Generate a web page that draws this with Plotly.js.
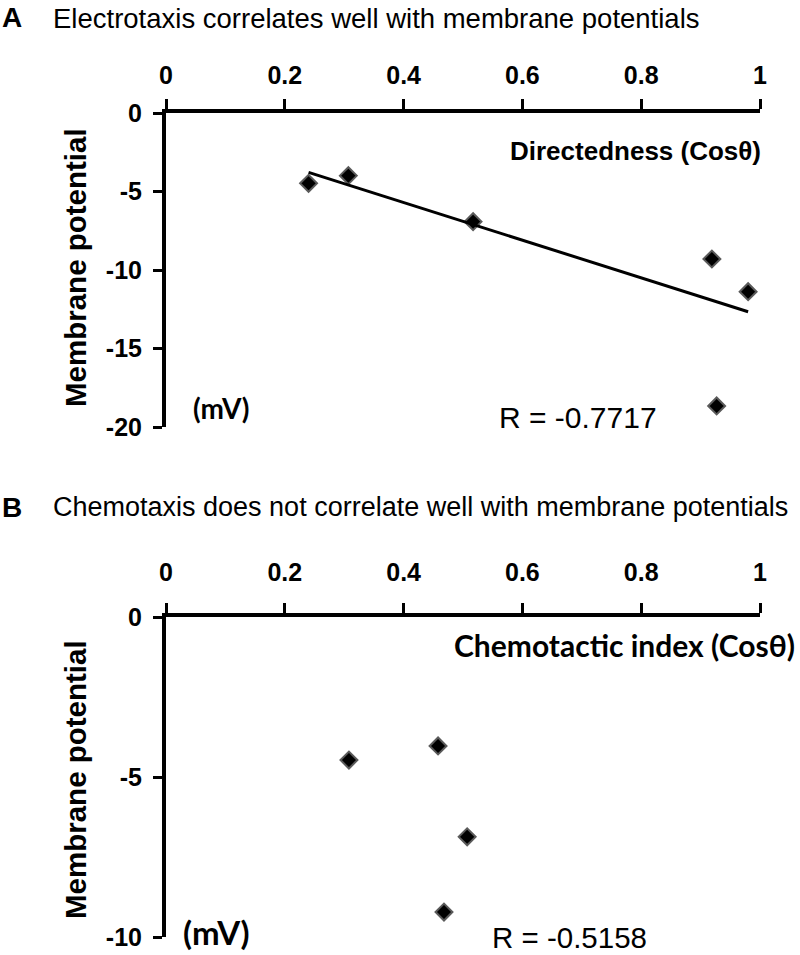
<!DOCTYPE html>
<html>
<head>
<meta charset="utf-8">
<script src="https://cdn.plot.ly/plotly-3.0.1.min.js"></script>
<style>html,body{margin:0;padding:0;background:#fff;}#chart{width:800px;height:955px;}</style>
</head>
<body>
<div id="chart"></div>
<script>
// Panel A: electrotaxis
const dirA = [0.24, 0.307, 0.517, 0.919, 0.98, 0.927];
const vmA = [-4.48, -3.99, -6.92, -9.3, -11.38, -18.66];
const trendX = [0.24, 0.98];
const trendY = [-3.78, -12.66];
// Panel B: chemotaxis
const ciB = [0.308, 0.458, 0.507, 0.468];
const vmB = [-4.47, -4.03, -6.87, -9.22];
const xTicks = [0, 0.2, 0.4, 0.6, 0.8, 1];
const xTickText = ['0', '0.2', '0.4', '0.6', '0.8', '1'];
const yTicksA = [0, -5, -10, -15, -20];
const yTickTextA = ['0', '-5', '-10', '-15', '-20'];
const yTicksB = [0, -5, -10];
const yTickTextB = ['0', '-5', '-10'];

const W = 800, H = 955;
const px = v => v / W;
const py = v => 1 - v / H;

const marker = {symbol: 'diamond', size: 13, color: '#000', line: {color: '#5a5a5a', width: 2}};
const traces = [
  {x: dirA, y: vmA, type: 'scatter', mode: 'markers', marker: marker, xaxis: 'x', yaxis: 'y', cliponaxis: false},
  {x: trendX, y: trendY, type: 'scatter', mode: 'lines', line: {color: '#000', width: 3}, xaxis: 'x', yaxis: 'y'},
  {x: ciB, y: vmB, type: 'scatter', mode: 'markers', marker: marker, xaxis: 'x2', yaxis: 'y2', cliponaxis: false}
];

const tickFont = {family: 'Liberation Sans, Arial, sans-serif', size: 25, color: '#000', weight: 'bold'};
function xAx(anchor, standoff) {
  return {
    domain: [px(166), px(760)], anchor: anchor, side: 'top', range: [0, 1],
    tickvals: xTicks, ticktext: xTickText, showline: true, linewidth: 4, linecolor: '#000',
    ticks: 'outside', ticklen: 10, tickwidth: 3, tickcolor: '#000', showgrid: false, zeroline: false,
    tickfont: tickFont, ticklabelstandoff: standoff
  };
}
function yAx(anchor, dom, range, ticks, text) {
  return {
    domain: dom, anchor: anchor, range: range, tickvals: ticks, ticktext: text,
    showline: true, linewidth: 4, linecolor: '#000', ticks: 'outside', ticklen: 9, tickwidth: 3,
    tickcolor: '#000', showgrid: false, zeroline: false, tickfont: tickFont, ticklabelstandoff: 6
  };
}

const arial = 'Liberation Sans, Arial, sans-serif';
const calib = 'Lato, Open Sans, sans-serif';
function ann(text, x, y, size, family, bold, extra) {
  return Object.assign({
    text: text, xref: 'paper', yref: 'paper', x: px(x), y: py(y), xanchor: 'left', yanchor: 'middle',
    showarrow: false, font: {family: family, size: size, color: '#000', weight: bold ? 'bold' : 'normal'}
  }, extra || {});
}

const layout = {
  width: W, height: H, margin: {l: 0, r: 0, t: 0, b: 0}, showlegend: false,
  paper_bgcolor: '#fff', plot_bgcolor: '#fff',
  xaxis: xAx('y', 5),
  yaxis: yAx('x', [py(427), py(113)], [-20, 0], yTicksA, yTickTextA),
  xaxis2: xAx('y2', 12),
  yaxis2: yAx('x2', [py(937), py(617)], [-10, 0], yTicksB, yTickTextB),
  annotations: [
    ann('A', 0, 18, 28, arial, true),
    ann('Electrotaxis correlates well with membrane potentials', 51, 19, 27.5, arial, false),
    ann('Directedness (Cosθ)', 763, 151, 26, arial, true, {xanchor: 'right'}),
    ann('(mV)', 191, 408, 28, calib, true),
    ann('R = -0.7717', 497, 417, 30, arial, false),
    ann('Membrane potential', 75, 268, 29.5, arial, true, {xanchor: 'center', textangle: -90}),
    ann('B', 0, 507, 28, arial, true),
    ann('Chemotaxis does not correlate well with membrane potentials', 51, 507, 27, arial, false),
    ann('Chemotactic index (Cosθ)', 797, 645, 30, calib, true, {xanchor: 'right'}),
    ann('(mV)', 181, 932, 33, calib, true),
    ann('R = -0.5158', 491, 955, 29.5, arial, false, {yanchor: 'bottom', borderpad: 0}),
    ann('Membrane potential', 75, 780, 29.5, arial, true, {xanchor: 'center', textangle: -90})
  ]
};

Plotly.newPlot('chart', traces, layout, {displayModeBar: false, staticPlot: true});
</script>
</body>
</html>
